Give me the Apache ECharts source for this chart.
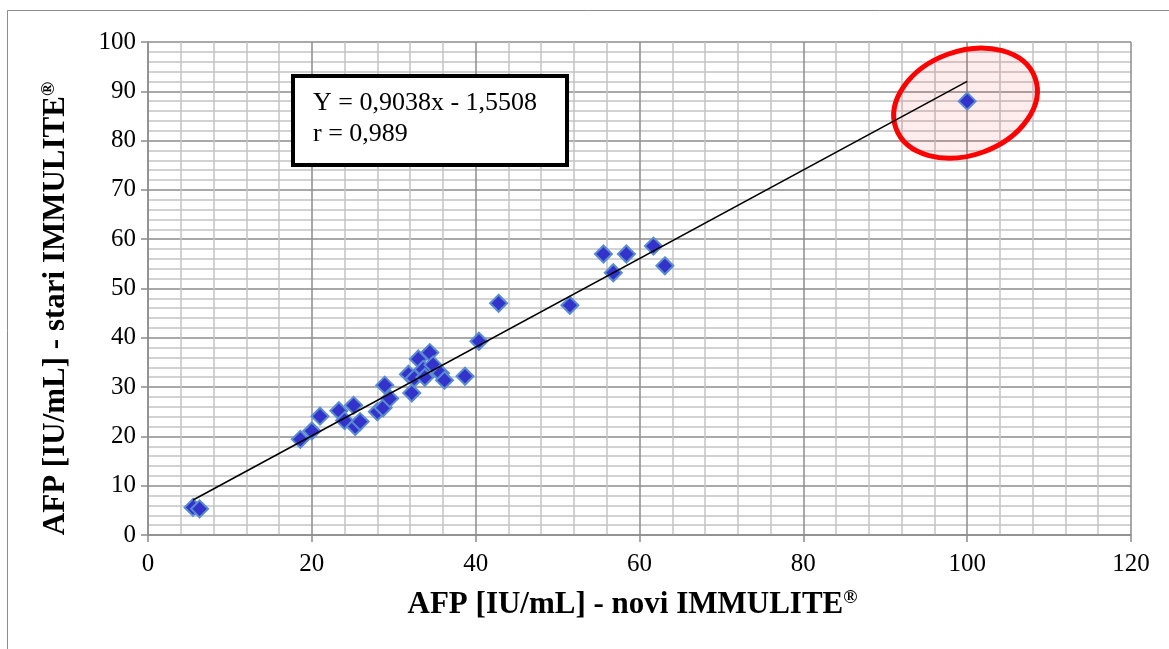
<!DOCTYPE html>
<html>
<head>
<meta charset="utf-8">
<script src="https://cdn.jsdelivr.net/npm/echarts@6/dist/echarts.min.js"></script>
<style>
html,body{margin:0;padding:0;background:#fff;}
#c{width:1169px;height:649px;}
</style>
</head>
<body>
<div id="c"></div>
<script>
// Data (x = novi IMMULITE, y = stari IMMULITE)
const xValues = [5.5, 6.3, 18.6, 20.0, 21.0, 23.3, 24.0, 25.1, 25.3, 25.9, 28.0, 28.7, 28.9, 29.5, 31.8, 32.2, 32.5, 33.0, 33.6, 33.8, 34.4, 34.8, 35.7, 36.2, 38.7, 40.4, 42.8, 51.5, 55.6, 56.8, 58.4, 61.7, 63.1, 100.0];
const yValues = [5.6, 5.3, 19.4, 21.1, 24.1, 25.2, 23.2, 26.3, 22.0, 23.0, 25.0, 25.8, 30.4, 27.7, 32.6, 28.8, 31.8, 35.7, 33.6, 32.0, 37.0, 34.5, 32.8, 31.4, 32.2, 39.3, 47.0, 46.6, 57.0, 53.2, 57.0, 58.6, 54.6, 88.0];
const trendX = [5.5, 100];
const trendY = [7.1, 92.0];
const xTicks = [0, 20, 40, 60, 80, 100, 120];
const yTicks = [0, 10, 20, 30, 40, 50, 60, 70, 80, 90, 100];
const equationText = 'Y = 0,9038x - 1,5508';
const rText = 'r = 0,989';
const xTitle = 'AFP [IU/mL] - novi IMMULITE';
const yTitle = 'AFP [IU/mL] - stari IMMULITE';

const points = xValues.map((x, i) => [x, yValues[i]]);
const trend = trendX.map((x, i) => [x, trendY[i]]);
const FONT = '"Liberation Serif", "Times New Roman", serif';

const chart = echarts.init(document.getElementById('c'), null, {renderer: 'canvas'});

const gridLineMinor = {show: true, lineStyle: {color: '#c4c4c4', width: 1.5}};
const gridLineMajor = {show: true, lineStyle: {color: '#8c8c8c', width: 1.5}};
const titleRich = {
  t: {fontFamily: FONT, fontSize: 31, fontWeight: 'bold', color: '#000', verticalAlign: 'bottom'},
  s: {fontFamily: FONT, fontSize: 19, fontWeight: 'bold', color: '#000', verticalAlign: 'top'}
};

const option = {
  backgroundColor: '#fff',
  animation: false,
  grid: {left: 148, top: 42, width: 983, height: 493, containLabel: false},
  xAxis: {
    type: 'value', min: xTicks[0], max: xTicks[xTicks.length - 1], interval: 20,
    axisLine: {show: true, lineStyle: {color: '#8c8c8c', width: 1.5}},
    axisTick: {show: true, length: 7, lineStyle: {color: '#8c8c8c', width: 1.5}},
    minorTick: {show: false, splitNumber: 5},
    splitLine: gridLineMajor,
    minorSplitLine: gridLineMinor,
    axisLabel: {color: '#000', fontFamily: FONT, fontSize: 25, margin: 17},
    name: '{t|' + xTitle + '}{s|®}',
    nameLocation: 'middle', nameGap: 54,
    nameTextStyle: {rich: titleRich, padding: [0, 14, 0, 0]}
  },
  yAxis: {
    type: 'value', min: yTicks[0], max: yTicks[yTicks.length - 1], interval: 10,
    axisLine: {show: true, lineStyle: {color: '#8c8c8c', width: 1.5}},
    axisTick: {show: true, length: 7, lineStyle: {color: '#8c8c8c', width: 1.5}},
    minorTick: {show: false, splitNumber: 5},
    splitLine: gridLineMajor,
    minorSplitLine: gridLineMinor,
    axisLabel: {color: '#000', fontFamily: FONT, fontSize: 25, margin: 12},
    name: '{t|' + yTitle + '}{s|®}',
    nameLocation: 'middle', nameGap: 77,
    nameTextStyle: {rich: titleRich, padding: [0, 40, 0, 0]}
  },
  series: [
    {
      type: 'scatter', data: points, symbol: 'diamond', symbolSize: 17, z: 3,
      itemStyle: {color: '#3333cc', borderColor: '#5a8ccf', borderWidth: 2, opacity: 1}
    },
    {
      type: 'line', data: trend, symbol: 'none', z: 4,
      lineStyle: {color: '#000', width: 1.5}
    }
  ]
};
chart.setOption(option);

// Overlay graphics
const c = chart.convertToPixel({gridIndex: 0}, [99.8, 87.6]);
chart.setOption({
  graphic: [
    {
      type: 'rect', z: 0, silent: true,
      shape: {x: 7.5, y: 10.5, width: 1200, height: 700},
      style: {fill: 'none', stroke: '#8c8c8c', lineWidth: 1}
    },
    {
      type: 'ellipse', x: c[0], y: c[1], rotation: 20 * Math.PI / 180, z: 1, silent: true,
      shape: {cx: 0, cy: 0, rx: 74, ry: 52},
      style: {fill: 'rgba(255,0,0,0.07)', stroke: '#ff0000', lineWidth: 5}
    },
    {
      type: 'group', z: 10, silent: true,
      children: [
        {
          type: 'rect', shape: {x: 293, y: 76, width: 274, height: 89},
          style: {fill: '#fff', stroke: '#000', lineWidth: 4}
        },
        {
          type: 'text', x: 313, y: 103,
          style: {text: equationText, fontFamily: FONT, fontSize: 26, fill: '#000', verticalAlign: 'middle', align: 'left'}
        },
        {
          type: 'text', x: 313, y: 134,
          style: {text: rText, fontFamily: FONT, fontSize: 26, fill: '#000', verticalAlign: 'middle', align: 'left'}
        }
      ]
    }
  ]
});
</script>
</body>
</html>
